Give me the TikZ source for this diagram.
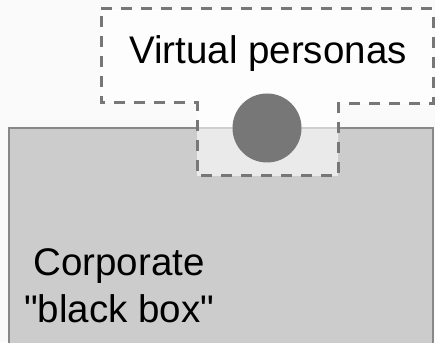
\documentclass[tikz,border=0pt]{standalone}
\usepackage{fontspec}
\setmainfont{Liberation Sans}[Ligatures=TeXOff]
\definecolor{bgc}{HTML}{FAFAFA}
\definecolor{boxfill}{HTML}{CCCCCC}
\definecolor{boxline}{HTML}{888888}
\definecolor{dashc}{HTML}{777777}
\definecolor{dotc}{HTML}{777777}
\tikzset{
  corpbox/.style={fill=boxfill, draw=boxline, line width=1.5pt},
  personaframe/.style={draw=dashc, line width=3pt, dash pattern=on 11pt off 9pt, fill=white, fill opacity=0.6, draw opacity=1},
  bigtext/.style={font=\fontsize{38.5}{47}\selectfont, text=black, inner sep=0pt},
  persona/.style={circle, fill=dotc, minimum size=69pt, inner sep=0pt}
}
\begin{document}
\begin{tikzpicture}[x=1pt,y=1pt]
\useasboundingbox (0,0) rectangle (435,342);
\fill[bgc] (0,0) rectangle (435,342);
\draw[corpbox] (9,-5) rectangle (433,214);
\draw[personaframe] (101,333) -- (433,333) -- (433,238) -- (338,238) -- (338,166) -- (197,166) -- (197,239) -- (101,239) -- cycle;
\node[persona] (dot) at (267,214) {};
\node[bigtext, anchor=base] (vp) at (268,278) {Virtual personas};
\node[bigtext, anchor=base, align=center] (corp) at (119,20) {Corporate\\"black box"};
\end{tikzpicture}
\end{document}
